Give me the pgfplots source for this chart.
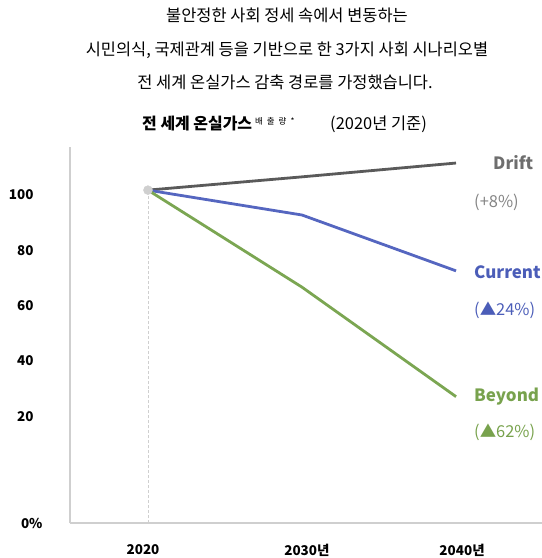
\documentclass[border=0pt]{standalone}
\usepackage{pgfplots}
\pgfplotsset{compat=1.18}
\usepackage{fontspec}
\setmainfont{Noto Sans CJK KR}
\definecolor{driftline}{HTML}{5A5A5A}
\definecolor{drifttext}{HTML}{6E6E6E}
\definecolor{currline}{HTML}{5566C0}
\definecolor{currtext}{HTML}{4B5DB8}
\definecolor{beyline}{HTML}{7BA652}
\definecolor{beytext}{HTML}{78A24D}
\definecolor{axisgray}{HTML}{CFCFCF}
\begin{document}
\begin{tikzpicture}
\path[use as bounding box] (0bp,0bp) rectangle (542bp,558bp);
% header
\node[font=\fontsize{16.5}{18}\selectfont] at (287bp,543bp) {불안정한 사회 정세 속에서 변동하는};
\node[font=\fontsize{16.5}{18}\selectfont] at (287bp,508bp) {시민의식, 국제관계 등을 기반으로 한 3가지 사회 시나리오별};
\node[font=\fontsize{16.5}{18}\selectfont] at (285bp,476bp) {전 세계 온실가스 감축 경로를 가정했습니다.};
\node[anchor=base west,inner sep=0] at (142bp,428bp) {\fontsize{16}{18}\selectfont\bfseries 전 세계 온실가스\hspace{3bp}\raisebox{5bp}{\fontsize{8.5}{9}\selectfont\mdseries 배\hspace{4bp}출\hspace{4bp}량\hspace{4bp}*}};
\node[anchor=base west,inner sep=0,font=\fontsize{16.5}{18}\selectfont] at (330bp,428bp) {(2020년 기준)};
\begin{axis}[
  at={(70bp,35bp)}, anchor=south west,
  scale only axis, width=472bp, height=376bp,
  xmin=2014.94, xmax=2045.58,
  ymin=-18.6, ymax=117.4,
  axis x line=bottom, axis y line=left,
  axis line style={draw=axisgray, line width=1.6bp, -},
  x axis line style={-}, y axis line style={-},
  major tick length=0pt,
  /pgf/number format/assume math mode=true,
  xtick={2019.68,2030.32,2040.39},
  xticklabels={2020,2030년,2040년},
  xticklabel style={font=\bfseries\fontsize{13.5}{14}\selectfont, yshift=-18bp},
  ytick={20,40,60,80,100},
  yticklabels={20,40,60,80,100},
  yticklabel style={font=\bfseries\fontsize{13.5}{14}\selectfont, xshift=-33bp},
  extra y ticks={-18.6},
  extra y tick labels={0\%},
  extra y tick style={yticklabel style={xshift=9bp}, major tick length=0pt},
  clip=false,
]
\addplot[draw=axisgray, densely dashed, line width=0.6bp] coordinates {(2020,-18.6) (2020,101.8)};
\addplot[draw=driftline, line width=2.8bp] coordinates {(2020,101.8) (2030,106.6) (2040,111.6)};
\addplot[draw=currline, line width=2.8bp] coordinates {(2020,101.8) (2030,92.8) (2040,72.6)};
\addplot[draw=beyline, line width=2.8bp] coordinates {(2020,101.8) (2030,66.7) (2040,27.1)};
\addplot[only marks, mark=*, mark size=4.5bp, color=axisgray] coordinates {(2020,101.8)};
\end{axis}
% series labels
\node[anchor=west,inner sep=0,text=drifttext,font=\bfseries\fontsize{17}{18}\selectfont] at (493bp,395bp) {Drift};
\node[anchor=west,inner sep=0,text=drifttext!85,font=\fontsize{16.5}{16}\selectfont] at (474bp,356bp) {(+8\%)};
\node[anchor=west,inner sep=0,text=currtext,font=\bfseries\fontsize{17}{18}\selectfont] at (474bp,286bp) {Current};
\node[anchor=west,inner sep=0,text=currtext,font=\fontsize{16.5}{16}\selectfont] at (474bp,248bp) {(▲24\%)};
\node[anchor=west,inner sep=0,text=beytext,font=\bfseries\fontsize{17}{18}\selectfont] at (474bp,161bp) {Beyond};
\node[anchor=west,inner sep=0,text=beytext,font=\fontsize{16.5}{16}\selectfont] at (474bp,126bp) {(▲62\%)};
\end{tikzpicture}
\end{document}
